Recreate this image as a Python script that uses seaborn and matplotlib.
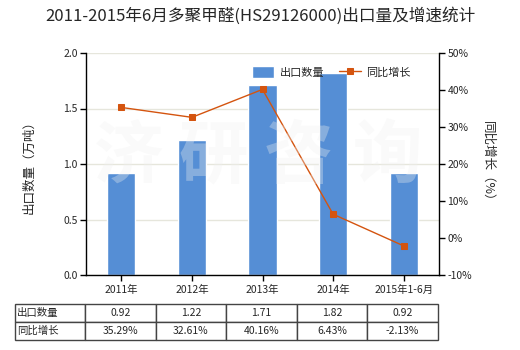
import matplotlib
matplotlib.use("Agg")
import matplotlib.pyplot as plt
import seaborn as sns
import pandas as pd
from matplotlib.ticker import FuncFormatter

categories = ["2011年", "2012年", "2013年", "2014年", "2015年1-6月"]
export_qty = [0.92, 1.22, 1.71, 1.82, 0.92]
yoy_growth = [35.29, 32.61, 40.16, 6.43, -2.13]
qty_labels = ["0.92", "1.22", "1.71", "1.82", "0.92"]
growth_labels = ["35.29%", "32.61%", "40.16%", "6.43%", "-2.13%"]

sns.set_theme(style="white")
plt.rcParams['font.family'] = ['Noto Sans CJK SC', 'DejaVu Sans']
plt.rcParams['axes.unicode_minus'] = False

BAR = "#558ED5"
LINE = "#D4540F"

df = pd.DataFrame({"cat": categories, "qty": export_qty, "yoy": yoy_growth})

fig = plt.figure(figsize=(5.2, 3.5), dpi=100)
ax = fig.add_axes([86/520, 1-275/350, 353/520, 222/350])

sns.barplot(data=df, x="cat", y="qty", color=BAR, width=0.4, saturation=1,
            ax=ax, zorder=2, label="出口数量")
h1, l1 = ax.get_legend_handles_labels()
if ax.get_legend():
    ax.get_legend().remove()
ax.set_ylim(0, 2.0)
ax.set_yticks([0, 0.5, 1.0, 1.5, 2.0])
ax.yaxis.set_major_formatter(FuncFormatter(lambda v, p: f"{v:.1f}"))
ax.set_xlim(-0.5, 4.5)
ax.grid(axis="y", color="#E6E6DC", linewidth=1, zorder=0)
ax.set_axisbelow(True)
ax.set_xlabel("")
ax.set_ylabel("出口数量（万吨）", fontsize=9, labelpad=20)
for s in ["top", "right"]:
    ax.spines[s].set_visible(False)
for s in ["left", "bottom"]:
    ax.spines[s].set_color("black")
    ax.spines[s].set_linewidth(1)
ax.tick_params(axis="y", direction="out", length=4, width=1, color="black",
               labelsize=7.5, left=True, pad=2)
ax.tick_params(axis="x", direction="out", length=4, width=1, color="black",
               labelsize=7.5, bottom=True, pad=3)

ax2 = ax.twinx()
sns.lineplot(data=df, x="cat", y="yoy", color=LINE, linewidth=1, marker="s",
             markersize=5, markeredgecolor=LINE, sort=False, ax=ax2,
             label="同比增长", zorder=3)
h2, l2 = ax2.get_legend_handles_labels()
if ax2.get_legend():
    ax2.get_legend().remove()
ax2.set_ylim(-10, 50)
ax2.set_yticks(range(-10, 51, 10))
ax2.yaxis.set_major_formatter(FuncFormatter(lambda v, p: f"{int(v)}%"))
ax2.set_ylabel("同比增长（%）", fontsize=9, rotation=270, labelpad=16)
for s in ["top", "left", "bottom"]:
    ax2.spines[s].set_visible(False)
ax2.spines["right"].set_color("black")
ax2.spines["right"].set_linewidth(1)
ax2.tick_params(axis="y", direction="out", length=4, width=1, color="black",
                labelsize=7.5, right=True, pad=2)
ax2.grid(False)
ax2.set_xlim(-0.5, 4.5)

# legend
leg = ax2.legend(h1 + h2, l1 + l2, loc="center left",
                 bbox_to_anchor=((252-86)/353, (275-72)/222),
                 ncol=2, frameon=False, fontsize=8, handlelength=2.0,
                 handleheight=1.3, columnspacing=1.3, handletextpad=0.5,
                 borderaxespad=0, borderpad=0)

# watermark
for ch, xc in zip("济研咨询", [128, 213, 298, 387]):
    fig.text(xc/520, 1-158/350, ch, fontsize=50, fontweight="bold",
             color="#f0f0f0", alpha=0.33, ha="center", va="center", zorder=10)

fig.suptitle("2011-2015年6月多聚甲醛(HS29126000)出口量及增速统计", fontsize=12,
             y=1-16/350, va="center")

# data table
tab_x0 = (15-86)/353
tab_w = 423/353
tab_y0 = (275-340)/222
tab_h = 36/222
cell_text = [["出口数量"] + qty_labels, ["同比增长"] + growth_labels]
tbl = ax.table(cellText=cell_text, cellLoc="center",
               colWidths=[70/423] + [70.6/423]*5,
               bbox=[tab_x0, tab_y0, tab_w, tab_h])
tbl.auto_set_font_size(False)
tbl.set_fontsize(7.5)
for (r, c), cell in tbl.get_celld().items():
    cell.set_edgecolor("#444444")
    cell.set_linewidth(1)
    if c == 0:
        cell.set_text_props(ha="left")
        cell.PAD = 0.03

fig.savefig("out.png", dpi=100)
